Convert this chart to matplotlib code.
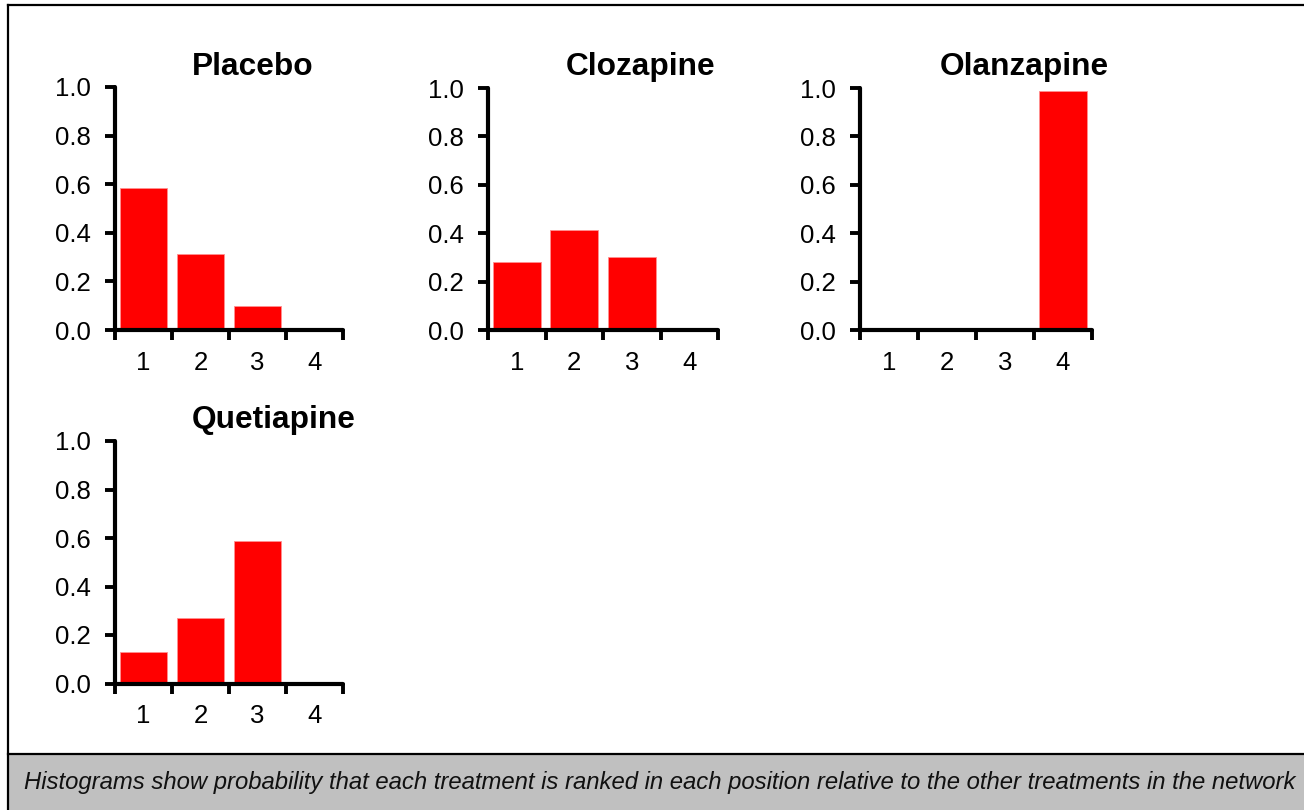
import matplotlib
matplotlib.use("Agg")
import matplotlib.pyplot as plt
from matplotlib.patches import Rectangle
from matplotlib.lines import Line2D

plt.rcParams['font.family'] = ['Liberation Sans', 'DejaVu Sans']

ranks = [1, 2, 3, 4]
rank_labels = ["1", "2", "3", "4"]
yticks = [0.0, 0.2, 0.4, 0.6, 0.8, 1.0]
ytick_labels = ["0.0", "0.2", "0.4", "0.6", "0.8", "1.0"]

treatments = ["Placebo", "Clozapine", "Olanzapine", "Quetiapine"]
placebo = [0.585, 0.311, 0.099, 0.0]
clozapine = [0.280, 0.413, 0.303, 0.0]
olanzapine = [0.0, 0.0, 0.005, 0.988]
quetiapine = [0.130, 0.271, 0.588, 0.0]
values = [placebo, clozapine, olanzapine, quetiapine]

caption = ("Histograms show probability that each treatment is ranked in each "
           "position relative to the other treatments in the network")

W, H = 1304, 810
fig = plt.figure(figsize=(W / 100, H / 100), dpi=100)

# pixel boxes: (left, top, right, bottom) of each axes
boxes = [(115, 87, 343, 330), (488, 88, 718, 330), (860, 88, 1092, 330),
         (115, 441, 343, 683.5)]
title_pos = [(253, 67), (641, 67), (1024, 67), (274, 420)]

for name, vals, box, tp in zip(treatments, values, boxes, title_pos):
    l, t, r, b = box
    ax = fig.add_axes([l / W, 1 - b / H, (r - l) / W, (b - t) / H])
    ax.bar(ranks, vals, width=0.84, color='#ff0000', edgecolor='#ff9090',
           linewidth=0.6, zorder=2)
    ax.set_xlim(0.5, 4.5)
    ax.set_ylim(0, 1.0)
    for s in ['top', 'right']:
        ax.spines[s].set_visible(False)
    for s in ['left', 'bottom']:
        ax.spines[s].set_linewidth(3.0)
        ax.spines[s].set_zorder(3)
        ax.spines[s].set_capstyle('round')
    ax.set_yticks(yticks)
    ax.set_yticklabels(ytick_labels)
    ax.set_xticks([0.5, 1.5, 2.5, 3.5, 4.5])
    ax.set_xticklabels([])
    ax.set_xticks(ranks, minor=True)
    ax.set_xticklabels(rank_labels, minor=True)
    ax.tick_params(axis='y', which='major', direction='out', length=7.2,
                   width=2.8, pad=10, labelsize=18.5)
    ax.tick_params(axis='x', which='major', direction='out', length=7.2,
                   width=2.8)
    ax.tick_params(axis='x', which='minor', length=0, pad=15, labelsize=18.5)
    ax.patch.set_alpha(0)
    fig.text(tp[0] / W, 1 - tp[1] / H, name, ha='center', va='center',
             fontsize=22.8, fontweight='bold')

# caption band
fig.patches.append(Rectangle((9 / W, 0), 1 - 9 / W, (H - 755) / H,
                             transform=fig.transFigure, facecolor='#c0c0c0',
                             edgecolor='none', zorder=0))
fig.text(24 / W, 1 - 782 / H, caption, ha='left', va='center',
         fontsize=17.2, style='italic', color='#111111')

# frame lines
lw = 1.6
fig.lines.append(Line2D([8 / W, 1.0], [1 - 5 / H, 1 - 5 / H],
                        transform=fig.transFigure, color='black', lw=lw))
fig.lines.append(Line2D([8 / W, 8 / W], [1 - 5 / H, 0],
                        transform=fig.transFigure, color='black', lw=lw))
fig.lines.append(Line2D([8 / W, 1.0], [1 - 754 / H, 1 - 754 / H],
                        transform=fig.transFigure, color='black', lw=lw))

fig.savefig("out.png", dpi=100)
